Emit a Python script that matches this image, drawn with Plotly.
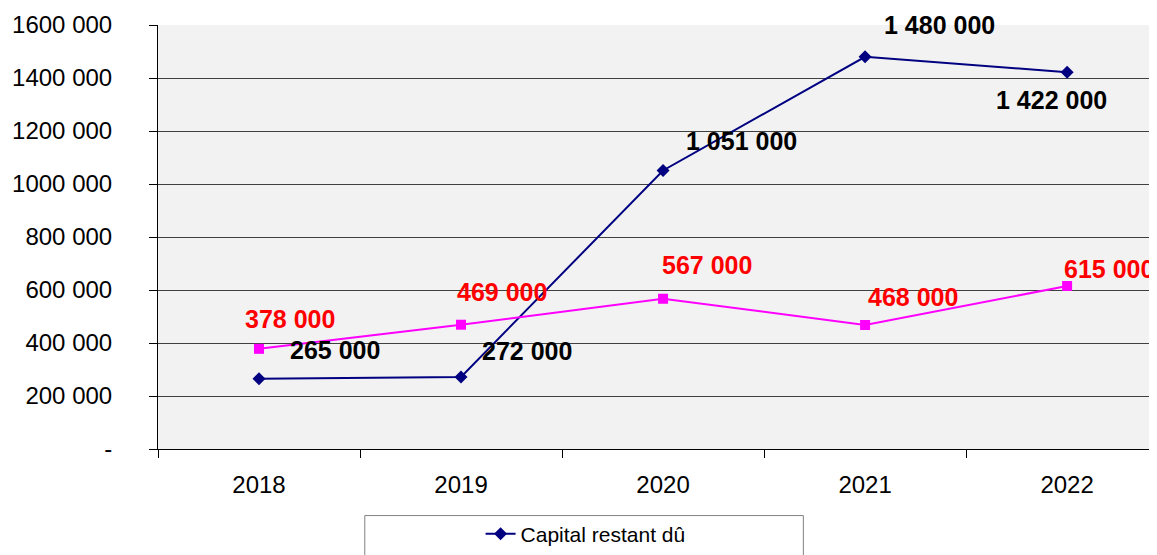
import plotly.graph_objects as go

years = ["2018", "2019", "2020", "2021", "2022"]
capital = [265000, 272000, 1051000, 1480000, 1422000]
second = [378000, 469000, 567000, 468000, 615000]
y_ticks = [0, 200000, 400000, 600000, 800000, 1000000, 1200000, 1400000, 1600000]
y_tick_text = ["-", "200 000", "400 000", "600 000", "800 000", "1000 000",
               "1200 000", "1400 000", "1600 000"]
capital_labels = ["265 000", "272 000", "1 051 000", "1 480 000", "1 422 000"]
second_labels = ["378 000", "469 000", "567 000", "468 000", "615 000"]

# label offsets (pixels) relative to each point
cap_off = [(76, 29), (66, 26), (78, 29), (74, 32), (-16, -28)]
sec_off = [(31, 30), (41, 33), (44, 34), (48, 28), (42, 17)]

FONT = "Liberation Sans, Arial, sans-serif"

fig = go.Figure()
fig.add_trace(go.Scatter(
    x=years, y=capital, mode="lines+markers", name="Capital restant dû",
    line=dict(color="#000080", width=2),
    marker=dict(symbol="diamond", size=10, color="#000080"),
))
fig.add_trace(go.Scatter(
    x=years, y=second, mode="lines+markers", name="", showlegend=False,
    line=dict(color="#ff00ff", width=2),
    marker=dict(symbol="square", size=10, color="#ff00ff"),
))

for i, (v, t, (dx, dy)) in enumerate(zip(capital, capital_labels, cap_off)):
    fig.add_annotation(x=i, y=v, xref="x", yref="y", text="<b>" + t + "</b>",
                       showarrow=False, xshift=dx, yshift=dy,
                       font=dict(family=FONT, size=25, color="black"))
for i, (v, t, (dx, dy)) in enumerate(zip(second, second_labels, sec_off)):
    fig.add_annotation(x=i, y=v, xref="x", yref="y", text="<b>" + t + "</b>",
                       showarrow=False, xshift=dx, yshift=dy,
                       font=dict(family=FONT, size=25, color="#ff0000"))

fig.update_layout(
    width=1149, height=547,
    margin=dict(l=150, r=0, t=17, b=98),
    plot_bgcolor="#f2f2f2", paper_bgcolor="white",
    font=dict(family=FONT, size=24, color="black"),
    showlegend=True,
    legend=dict(orientation="h", x=0.428, xanchor="center", y=-0.201, yanchor="middle",
                font=dict(size=21), bgcolor="rgba(0,0,0,0)", borderwidth=0),
    shapes=[dict(type="rect", xref="paper", yref="paper", x0=0.207, x1=0.646,
                 y0=-0.157, y1=-0.45, line=dict(color="#808080", width=1),
                 fillcolor="rgba(0,0,0,0)", layer="below")],
)
fig.update_xaxes(
    type="category", range=[-0.5, 4.445], tickson="boundaries",
    ticks="outside", ticklen=8, tickcolor="black", showgrid=False,
    showline=True, linecolor="black", linewidth=1, zeroline=False,
    ticklabelstandoff=14, tickfont=dict(size=24), automargin=False,
)
fig.update_yaxes(
    range=[0, 1600000], tickvals=y_ticks, ticktext=y_tick_text,
    ticks="outside", ticklen=8, tickcolor="black",
    showgrid=True, gridcolor="#404040", gridwidth=1,
    showline=True, linecolor="black", linewidth=1, zeroline=False,
    ticklabelstandoff=32, tickfont=dict(size=24), automargin=False,
)

fig.write_html("out.html")
